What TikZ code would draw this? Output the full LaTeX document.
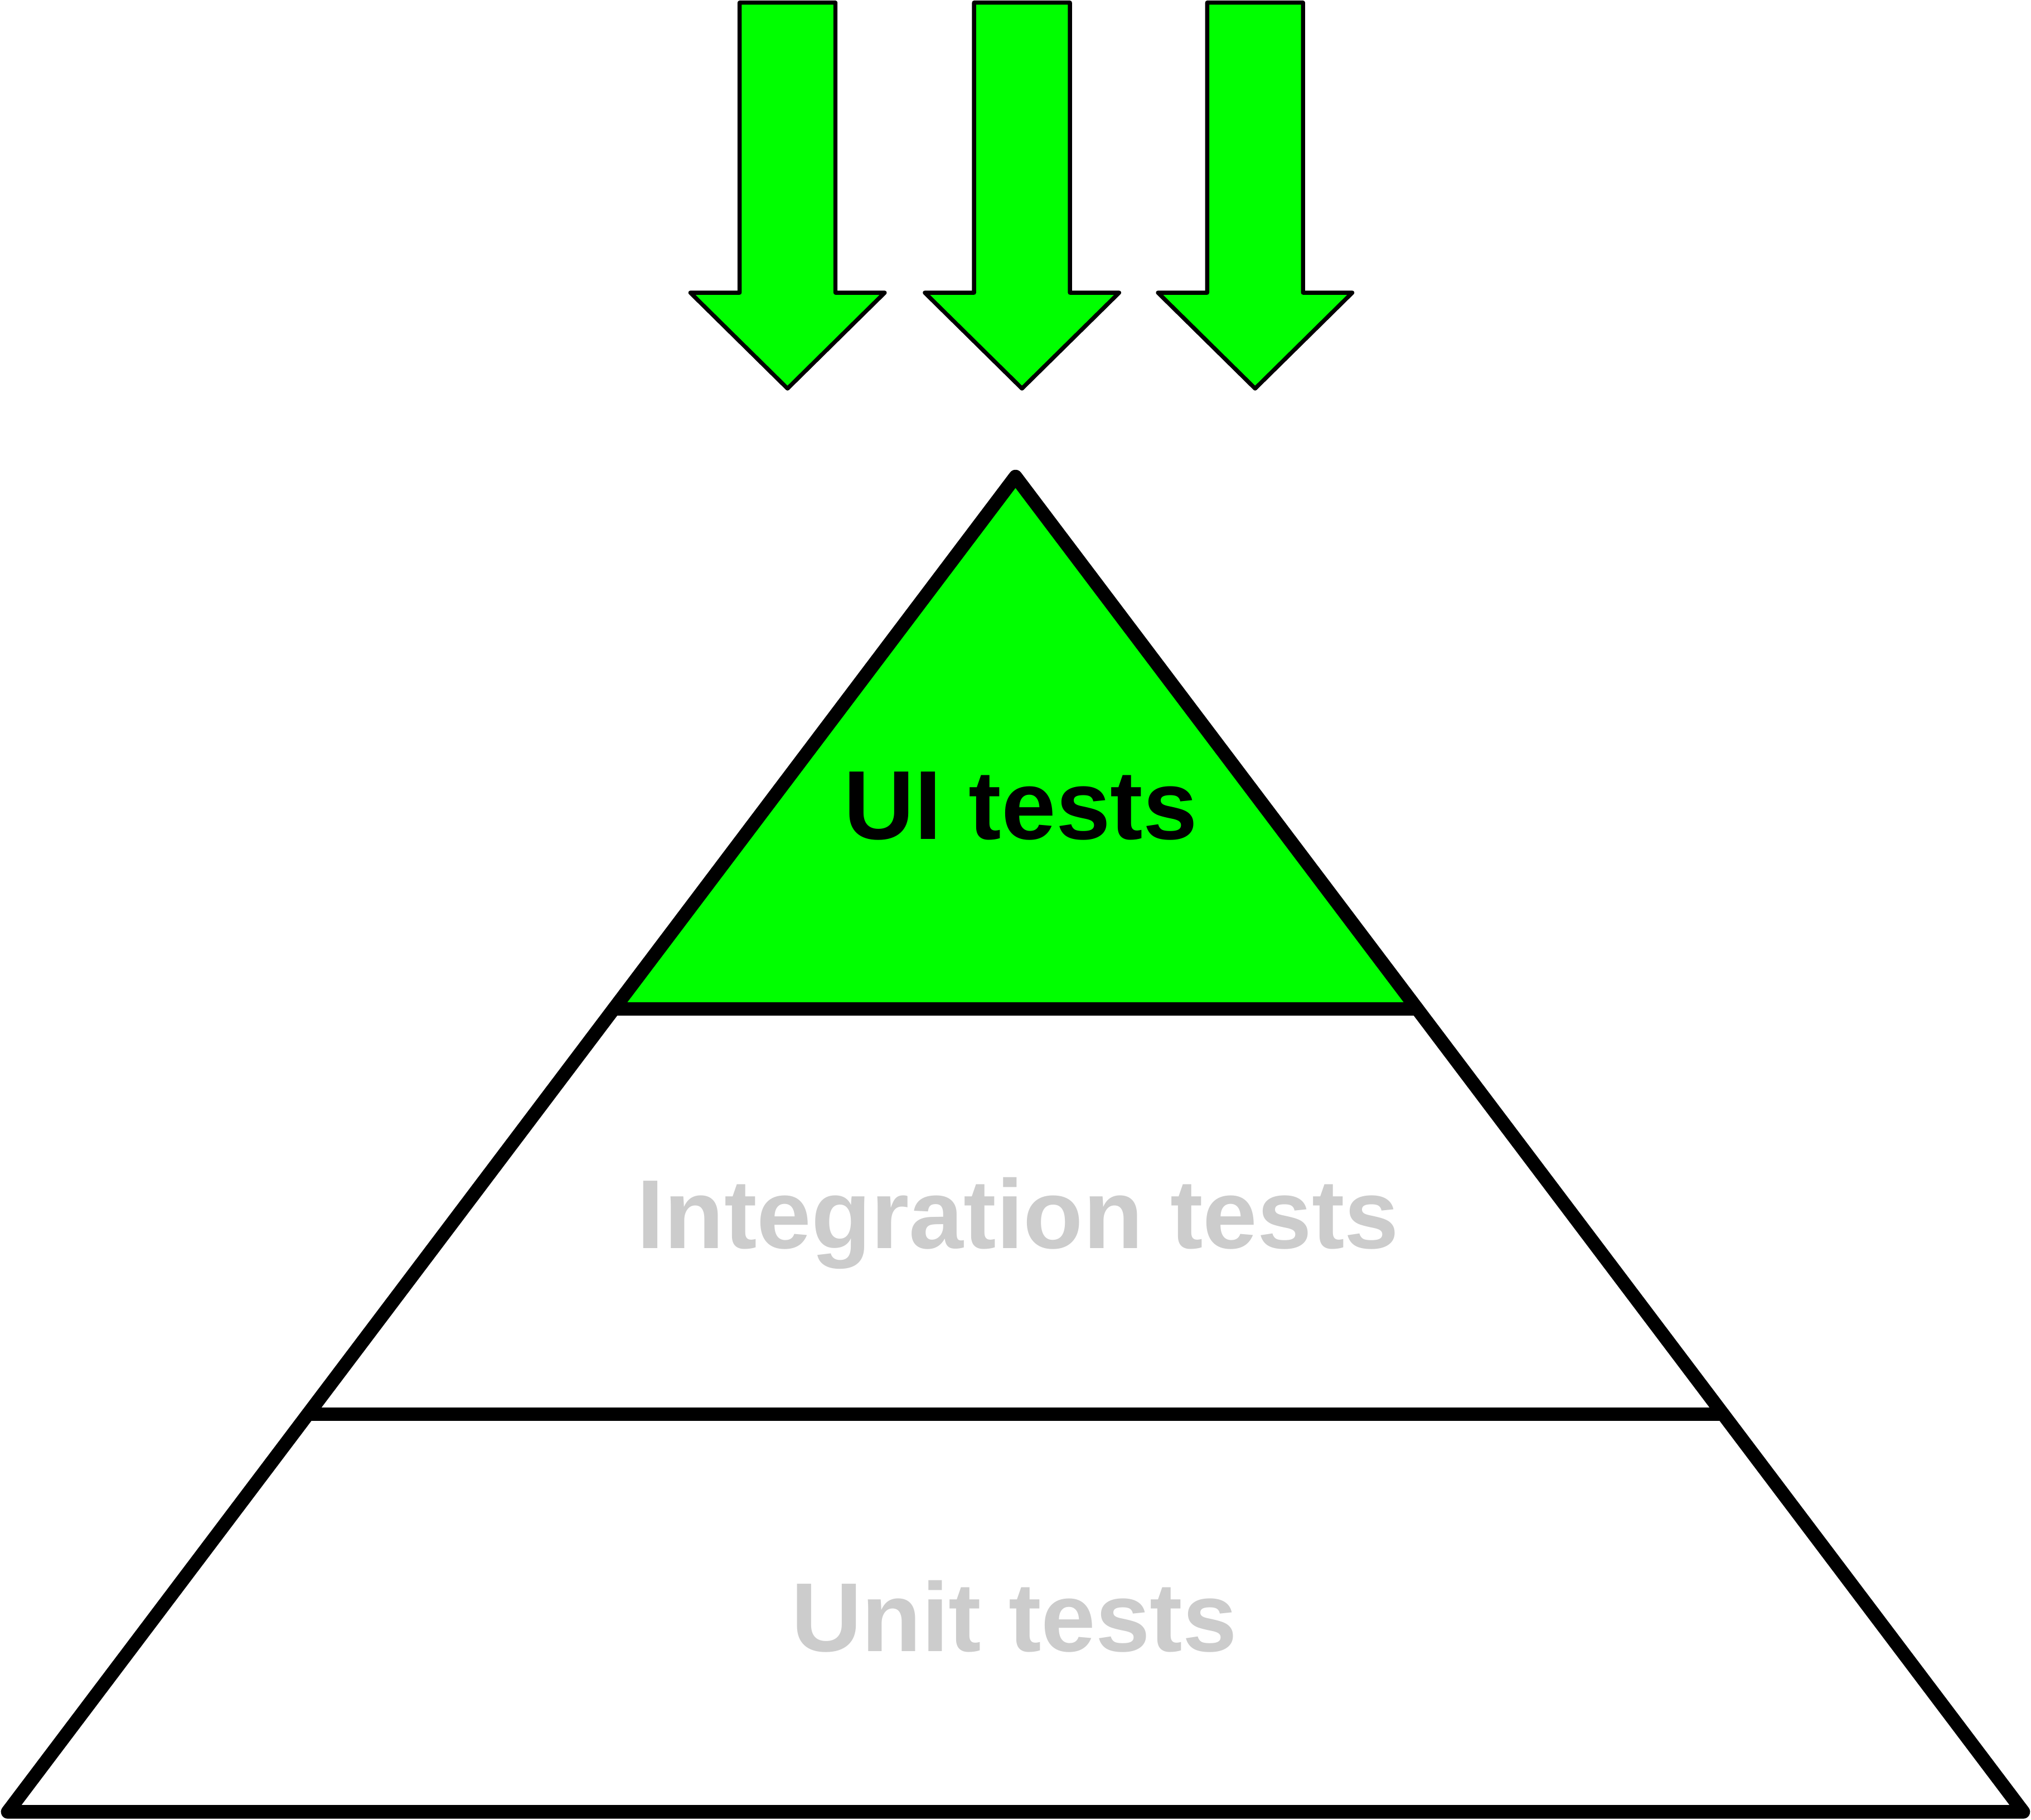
\documentclass[tikz,border=0pt]{standalone}
\usepackage{fontspec}
\setmainfont{Liberation Sans}
\usetikzlibrary{calc}
\definecolor{testgreen}{HTML}{00FF00}
\definecolor{testgray}{HTML}{CCCCCC}
\tikzset{
  layerline/.style={line width=3pt, line join=round, line cap=round},
  bigarrow/.style={draw=black, fill=testgreen, line width=0.9pt, line join=round},
  layerlabel/.style={anchor=base, font=\bfseries\fontsize{21.5pt}{24pt}\selectfont, inner sep=0pt}
}
\begin{document}
\begin{tikzpicture}[x=0.01cm, y=-0.01cm]
  \useasboundingbox (0,0) rectangle (1568,1405);
  % pyramid corners
  \coordinate (apex) at (784,368);
  \coordinate (bl) at (6,1399);
  \coordinate (br) at (1562,1399);
  \coordinate (uil) at ($(apex)!0.3986!(bl)$);
  \coordinate (uir) at ($(apex)!0.3986!(br)$);
  \coordinate (intl) at ($(apex)!0.7022!(bl)$);
  \coordinate (intr) at ($(apex)!0.7022!(br)$);
  % top layer
  \fill[testgreen] (apex) -- (uil) -- (uir) -- cycle;
  \draw[layerline] (apex) -- (bl) -- (br) -- cycle;
  \draw[layerline] (uil) -- (uir);
  \draw[layerline] (intl) -- (intr);
  % labels
  \node[layerlabel] (ui) at (788,648) {UI tests};
  \node[layerlabel, text=testgray] (integration) at (786,964) {Integration tests};
  \node[layerlabel, text=testgray] (unit) at (783,1275) {Unit tests};
  % arrows
  \foreach \c in {608,789,969}
    \draw[bigarrow] (\c-37,2) -- (\c+37,2) -- (\c+37,226) -- (\c+75,226) -- (\c,300)
      -- (\c-75,226) -- (\c-37,226) -- cycle;
\end{tikzpicture}
\end{document}
